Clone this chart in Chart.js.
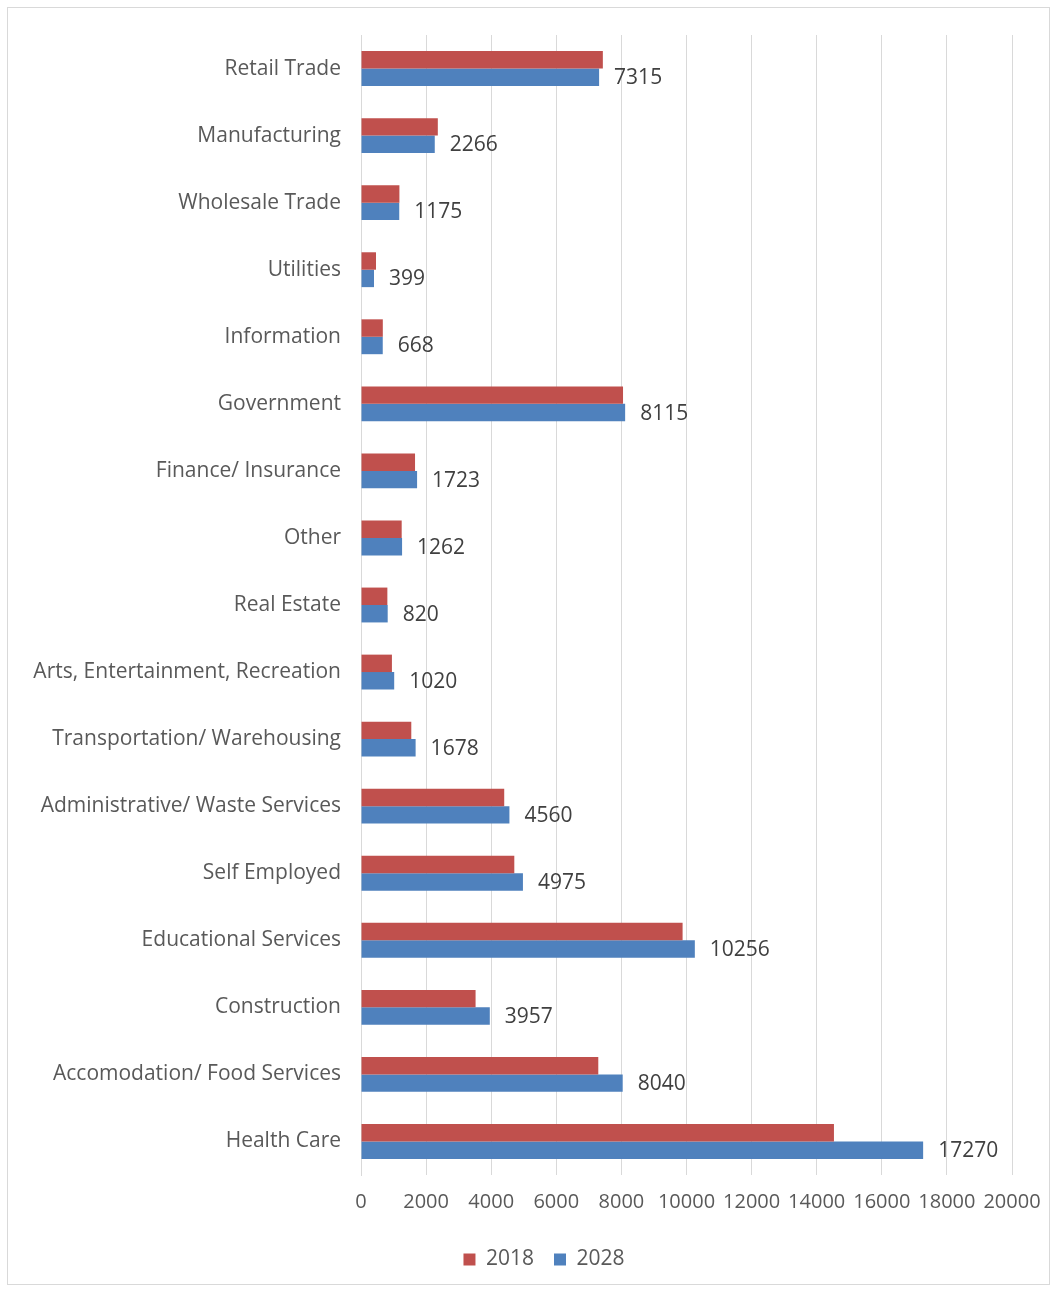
<!DOCTYPE html>
<html>
<head>
<meta charset="utf-8">
<title>Employment by industry, 2018 and 2028</title>
<script src="https://cdn.jsdelivr.net/npm/chart.js@4/dist/chart.umd.min.js"></script>
<style>
    body { margin: 0; background: #fff; }
    #rahmen {
        position: absolute;
        left: 7px;
        top: 7px;
        width: 1043px;
        height: 1278px;
        border: 1px solid #d9d9d9;
        box-sizing: border-box;
    }
</style>
</head>
<body>
<div id="rahmen"><canvas id="branchen"></canvas></div>
<script>
const branchen = [
    "Retail Trade",
    "Manufacturing",
    "Wholesale Trade",
    "Utilities",
    "Information",
    "Government",
    "Finance/ Insurance",
    "Other",
    "Real Estate",
    "Arts, Entertainment, Recreation",
    "Transportation/ Warehousing",
    "Administrative/ Waste Services",
    "Self Employed",
    "Educational Services",
    "Construction",
    "Accomodation/ Food Services",
    "Health Care",
];
const werte2018 = [7430, 2360, 1180, 460, 670, 8050, 1660, 1250, 810, 950, 1545, 4400, 4710, 9880, 3520, 7290, 14530];
const werte2028 = [7315, 2266, 1175, 399, 668, 8115, 1723, 1262, 820, 1020, 1678, 4560, 4975, 10256, 3957, 8040, 17270];
const achsenTicks = [0, 2000, 4000, 6000, 8000, 10000, 12000, 14000, 16000, 18000, 20000];

const schrift = "'Open Sans', 'Noto Sans', sans-serif";

// Werte rechts neben den blauen Balken
const wertBeschriftung = {
    id: "wertBeschriftung",
    afterDatasetsDraw(chart) {
        const ctx = chart.ctx;
        const meta = chart.getDatasetMeta(1);
        ctx.save();
        ctx.font = "21px " + schrift;
        ctx.fillStyle = "#404040";
        ctx.textAlign = "left";
        ctx.textBaseline = "middle";
        meta.data.forEach((balken, i) => {
            ctx.fillText(String(werte2028[i]), balken.x + 15, balken.y + 1);
        });
        ctx.restore();
    },
};

// Legende nach rechts, mittig unter der Zeichenfläche
const legendeVerschieben = {
    id: "legendeVerschieben",
    afterLayout(chart) {
        chart.legend.left += 34;
        chart.legend.right += 34;
    },
};

const data = {
    labels: branchen,
    datasets: [
        {
            label: "2018",
            data: werte2018,
            backgroundColor: "#c0504d",
        },
        {
            label: "2028",
            data: werte2028,
            backgroundColor: "#4f81bd",
        },
    ],
};

new Chart(document.getElementById("branchen"), {
    type: "bar",
    data: data,
    plugins: [wertBeschriftung, legendeVerschieben],
    options: {
        indexAxis: "y",
        responsive: true,
        maintainAspectRatio: false,
        animation: false,
        categoryPercentage: 0.52,
        barPercentage: 1.0,
        layout: {
            padding: { top: 27, right: 37, bottom: 4, left: 0 },
        },
        plugins: {
            tooltip: { enabled: false },
            legend: {
                position: "bottom",
                labels: {
                    boxWidth: 12,
                    boxHeight: 12,
                    padding: 20,
                    color: "#595959",
                    font: { family: schrift, size: 21 },
                },
            },
        },
        scales: {
            x: {
                min: 0,
                max: 20000,
                afterBuildTicks(scale) {
                    scale.ticks = achsenTicks.map((v) => ({ value: v }));
                },
                afterFit(scale) {
                    scale.paddingRight = 0;
                },
                grid: { color: "#d9d9d9", drawTicks: false },
                border: { display: false },
                ticks: {
                    padding: 15,
                    maxRotation: 0,
                    color: "#595959",
                    font: { family: schrift, size: 20 },
                    callback: (wert) => String(wert),
                },
            },
            y: {
                afterFit(scale) {
                    scale.width = 353;
                    scale.paddingTop = 0;
                    scale.paddingBottom = 0;
                },
                grid: { display: false, drawTicks: false },
                border: { display: true, color: "#d9d9d9" },
                ticks: {
                    padding: 20,
                    color: "#595959",
                    font: { family: schrift, size: 21 },
                },
            },
        },
    },
});
</script>
</body>
</html>
